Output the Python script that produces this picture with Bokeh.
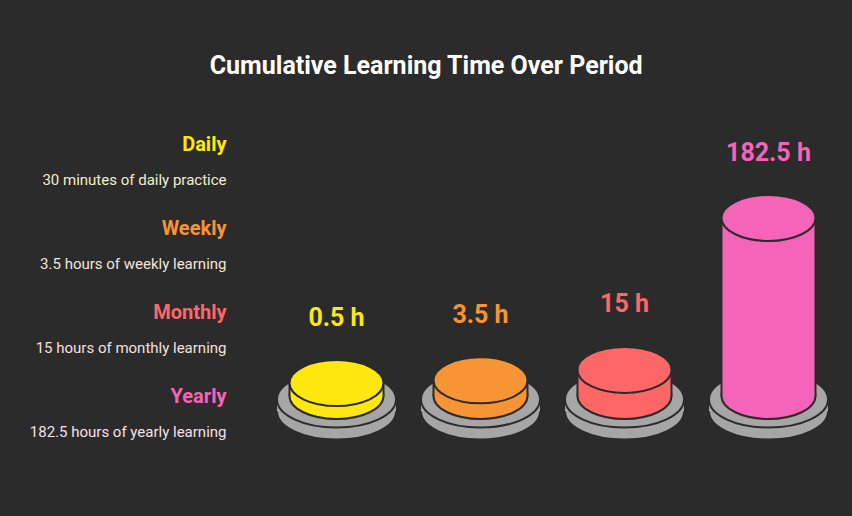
from bokeh.plotting import figure
from bokeh.models import Range1d
from bokeh.embed import file_html
from bokeh.resources import INLINE
from bokeh.core.properties import value

# ---- data ----
categories = ["Daily", "Weekly", "Monthly", "Yearly"]
hours = [0.5, 3.5, 15, 182.5]
value_labels = ["0.5 h", "3.5 h", "15 h", "182.5 h"]
descriptions = [
    "30 minutes of daily practice",
    "3.5 hours of weekly learning",
    "15 hours of monthly learning",
    "182.5 hours of yearly learning",
]
colors = ["#ffe70f", "#f79433", "#ff6666", "#f564b9"]
desc_colors = ["#f2eecf", "#f2e6dd", "#f3e0df", "#f3e0ea"]
title_text = "Cumulative Learning Time Over Period"

# ---- style / layout ----
BG = "#2b2b2b"
OUTLINE = "#2b2b2b"
PLATE = "#a6a6a6"
FONT = value("Roboto")

W, H = 836, 500
p = figure(width=W, height=H, x_range=Range1d(0, W), y_range=Range1d(H, 0),
           toolbar_location=None, output_backend="svg", min_border=0,
           background_fill_color=BG, border_fill_color=BG, outline_line_color=None,
           x_axis_type=None, y_axis_type=None)
p.grid.visible = False

CX0, STEP = 336, 144
BASE_Y = 395.5          # centre of cylinder bottom ellipse
CYL_W, CYL_EH = 94, 46
PLATE_W, PLATE_EH = 119, 56
PLATE_TOP = 399
PLATE_THICK = 12
MIN_H = 12.5
PX_PER_HOUR = 165.5 / 182.5

cx = [CX0 + i * STEP for i in range(len(categories))]
tops = [BASE_Y - (MIN_H + PX_PER_HOUR * h) for h in hours]

# plates
pb = [PLATE_TOP + PLATE_THICK] * len(cx)
pt = [PLATE_TOP] * len(cx)
p.ellipse(cx, pb, width=PLATE_W, height=PLATE_EH, fill_color=PLATE,
          line_color=OUTLINE, line_width=2)
p.quad(left=[c - PLATE_W / 2 for c in cx], right=[c + PLATE_W / 2 for c in cx],
       top=pt, bottom=pb, fill_color=PLATE, line_color=None)
p.ellipse(cx, pt, width=PLATE_W, height=PLATE_EH, fill_color=PLATE,
          line_color=OUTLINE, line_width=2)

# cylinders
bb = [BASE_Y] * len(cx)
p.ellipse(cx, bb, width=CYL_W, height=CYL_EH, fill_color=colors,
          line_color=OUTLINE, line_width=2)
p.quad(left=[c - CYL_W / 2 for c in cx], right=[c + CYL_W / 2 for c in cx],
       top=tops, bottom=bb, fill_color=colors, line_color=None)
p.segment(x0=[c - CYL_W / 2 for c in cx], y0=tops, x1=[c - CYL_W / 2 for c in cx], y1=bb,
          line_color=OUTLINE, line_width=2)
p.segment(x0=[c + CYL_W / 2 for c in cx], y0=tops, x1=[c + CYL_W / 2 for c in cx], y1=bb,
          line_color=OUTLINE, line_width=2)
p.ellipse(cx, tops, width=CYL_W, height=CYL_EH, fill_color=colors,
          line_color=OUTLINE, line_width=2)

# value labels
p.text(cx, [t - 66 for t in tops], text=value_labels, text_color=colors,
       text_font=FONT, text_font_style="bold", text_font_size="25px",
       text_align="center", text_baseline="alphabetic")

# left legend-like labels
LX = 226
p.text([LX] * 4, [143.5 + 84 * i for i in range(4)], text=categories, text_color=colors,
       text_font=FONT, text_font_style="bold", text_font_size="20px",
       text_align="right", text_baseline="alphabetic")
p.text([LX] * 4, [179.5 + 84 * i for i in range(4)], text=descriptions, text_color=desc_colors,
       text_font=FONT, text_font_size="15px",
       text_align="right", text_baseline="alphabetic")

# title
p.text([426], [65.3], text=[title_text], text_color="#ffffff",
       text_font=FONT, text_font_style="bold", text_font_size="25px",
       text_align="center", text_baseline="alphabetic")

html = file_html(p, INLINE, title=title_text)
html = html.replace("<head>", "<head><style>html,body{background:#2b2b2b;}</style>", 1)
open("out.html", "w").write(html)
